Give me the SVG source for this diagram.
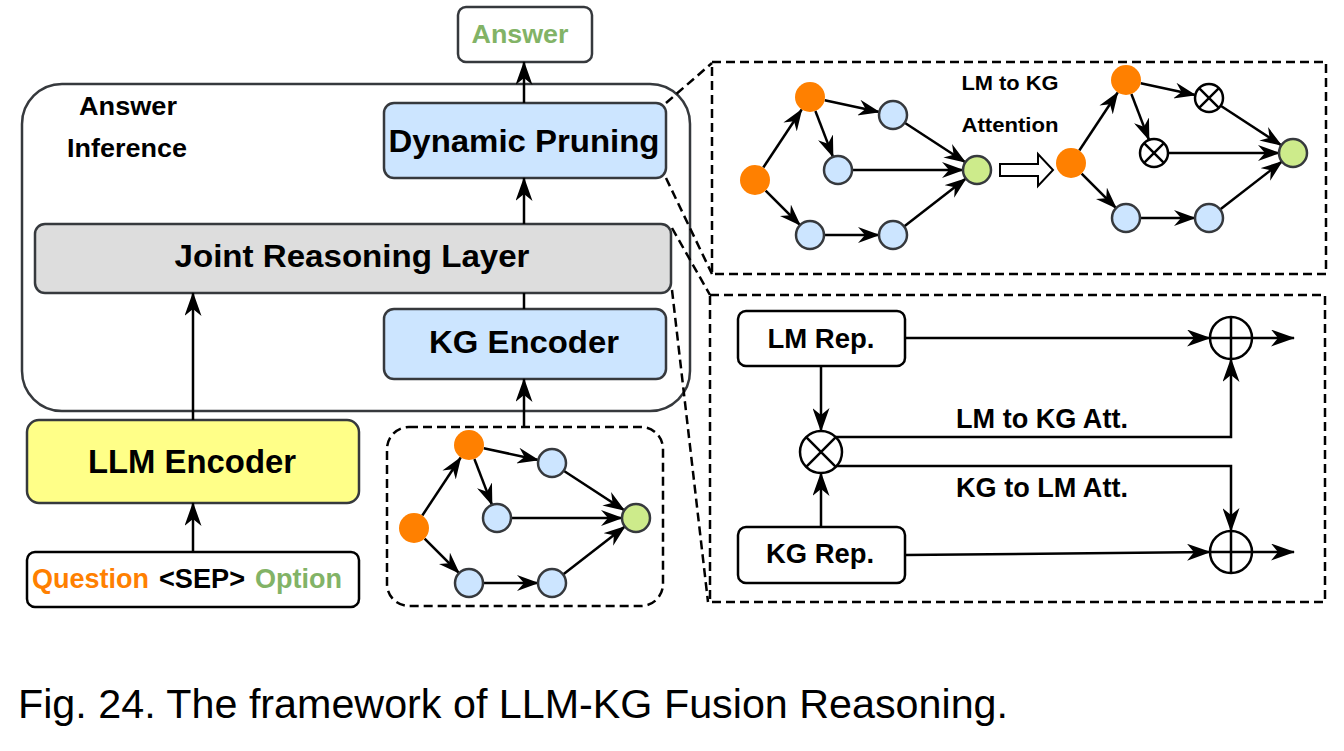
<svg xmlns="http://www.w3.org/2000/svg" width="1344" height="751" viewBox="0 0 1344 751">
<style>
.box{stroke:#36393d;stroke-width:2.5}
.rep{fill:#fff;stroke:#000;stroke-width:2.5}
.dash{fill:none;stroke:#000;stroke-width:2.5;stroke-dasharray:9 5}
.ln{fill:none;stroke:#000;stroke-width:2.5}
.t{font-family:"Liberation Sans",Arial,sans-serif;font-weight:bold;fill:#000}
.or{fill:#ff8000}
.bl{fill:#cce5ff;stroke:#36393d;stroke-width:2.5}
.gr{fill:#cdeb8b;stroke:#36393d;stroke-width:2.5}
.op{fill:#fff;stroke:#000;stroke-width:2.5}
</style>
<defs>
<marker id="ah" markerUnits="userSpaceOnUse" markerWidth="24" markerHeight="17" refX="23" refY="8.5" orient="auto"><path d="M0,0 L24,8.5 L0,17 L7,8.5 Z" fill="#000"/></marker>
<marker id="as" markerUnits="userSpaceOnUse" markerWidth="22" markerHeight="16" refX="21" refY="8" orient="auto"><path d="M0,0 L22,8 L0,16 L7,8 Z" fill="#000"/></marker>
</defs>
<rect width="1344" height="751" fill="#fff"/>

<!-- container -->
<g id="answer-inference">
<rect x="22" y="84" width="668" height="327" rx="40" fill="#fff" class="box"/>
<text class="t" x="128" y="115" font-size="25" text-anchor="middle" textLength="98" lengthAdjust="spacingAndGlyphs">Answer</text>
<text class="t" x="127" y="157" font-size="25" text-anchor="middle" textLength="120" lengthAdjust="spacingAndGlyphs">Inference</text>
</g>

<g id="answer">
<rect x="458" y="7" width="134" height="55" rx="8" fill="#fff" class="box"/>
<text class="t" x="520" y="43" font-size="26" text-anchor="middle" fill="#82b366" style="fill:#82b366" textLength="97" lengthAdjust="spacingAndGlyphs">Answer</text>
</g>
<g id="dynamic-pruning">
<rect x="384" y="103" width="282" height="75" rx="10" fill="#cce5ff" class="box"/>
<text class="t" x="524" y="152" font-size="32" text-anchor="middle" textLength="271" lengthAdjust="spacingAndGlyphs">Dynamic Pruning</text>
</g>
<g id="joint-reasoning">
<rect x="35" y="224" width="636" height="69" rx="10" fill="#dddddd" class="box"/>
<text class="t" x="352" y="267" font-size="32" text-anchor="middle" textLength="355" lengthAdjust="spacingAndGlyphs">Joint Reasoning Layer</text>
</g>
<g id="kg-encoder">
<rect x="384" y="309" width="282" height="70" rx="10" fill="#cce5ff" class="box"/>
<text class="t" x="524" y="353" font-size="32" text-anchor="middle" textLength="190" lengthAdjust="spacingAndGlyphs">KG Encoder</text>
</g>
<g id="llm-encoder">
<rect x="27" y="420" width="332" height="83" rx="12" fill="#ffff88" class="box"/>
<text class="t" x="192" y="473" font-size="33" text-anchor="middle" textLength="208" lengthAdjust="spacingAndGlyphs">LLM Encoder</text>
</g>
<g id="input">
<rect x="27" y="552" width="332" height="55" rx="8" fill="#fff" stroke="#000" stroke-width="2.5"/>
<text class="t" x="32" y="588" font-size="27"><tspan style="fill:#ff8000" textLength="117" lengthAdjust="spacingAndGlyphs">Question</tspan><tspan x="159" textLength="86" lengthAdjust="spacingAndGlyphs">&lt;SEP&gt;</tspan><tspan x="255" style="fill:#82b366" textLength="87" lengthAdjust="spacingAndGlyphs">Option</tspan></text>
</g>

<!-- small KG graph -->
<g id="kg-graph">
<rect x="387" y="427" width="276" height="179" rx="22" class="dash"/>
<g transform="translate(414,528)">
<g class="ln" marker-end="url(#as)">
<path d="M8.3,-12.5 L46.7,-70.5"/><path d="M69.7,-79.8 L124.3,-68"/><path d="M60.4,-69 L78,-23.1"/><path d="M149.7,-57.3 L210.3,-17.7"/><path d="M97,-10 L208,-10"/><path d="M10.6,10.6 L45.1,45.1"/><path d="M69,55 L124,55"/><path d="M149.1,46.4 L210.9,-1.4"/>
</g>
<g id="kg-a"><circle cx="0" cy="0" r="15" class="or"/></g>
<g id="kg-b"><circle cx="55" cy="-83" r="15" class="or"/></g>
<g id="kg-c"><circle cx="138" cy="-65" r="14" class="bl"/></g>
<g id="kg-d"><circle cx="83" cy="-10" r="14" class="bl"/></g>
<g id="kg-g"><circle cx="222" cy="-10" r="14" class="gr"/></g>
<g id="kg-e"><circle cx="55" cy="55" r="14" class="bl"/></g>
<g id="kg-f"><circle cx="138" cy="55" r="14" class="bl"/></g>
</g>
</g>

<!-- pruning detail -->
<g id="pruning-detail">
<rect x="712" y="62" width="614" height="212" class="dash"/>
<g transform="translate(755,180)">
<g class="ln" marker-end="url(#as)">
<path d="M8.3,-12.5 L46.7,-70.5"/><path d="M69.7,-79.8 L124.3,-68"/><path d="M60.4,-69 L78,-23.1"/><path d="M149.7,-57.3 L210.3,-17.7"/><path d="M97,-10 L208,-10"/><path d="M10.6,10.6 L45.1,45.1"/><path d="M69,55 L124,55"/><path d="M149.1,46.4 L210.9,-1.4"/>
</g>
<g id="p1-a"><circle cx="0" cy="0" r="15" class="or"/></g>
<g id="p1-b"><circle cx="55" cy="-83" r="15" class="or"/></g>
<g id="p1-c"><circle cx="138" cy="-65" r="14" class="bl"/></g>
<g id="p1-d"><circle cx="83" cy="-10" r="14" class="bl"/></g>
<g id="p1-g"><circle cx="222" cy="-10" r="14" class="gr"/></g>
<g id="p1-e"><circle cx="55" cy="55" r="14" class="bl"/></g>
<g id="p1-f"><circle cx="138" cy="55" r="14" class="bl"/></g>
</g>
<path d="M1000,164 L1038,164 L1038,154 L1053,170 L1038,186 L1038,176 L1000,176 Z" fill="#fff" stroke="#000" stroke-width="2"/>
<text class="t" x="1010" y="90" font-size="20" text-anchor="middle" textLength="97" lengthAdjust="spacingAndGlyphs">LM to KG</text>
<text class="t" x="1010" y="132" font-size="20" text-anchor="middle" textLength="97" lengthAdjust="spacingAndGlyphs">Attention</text>
<g transform="translate(1071,163)">
<g class="ln" marker-end="url(#as)">
<path d="M8.3,-12.5 L46.7,-70.5"/><path d="M69.7,-79.8 L124.3,-68"/><path d="M60.4,-69 L78,-23.1"/><path d="M149.7,-57.3 L210.3,-17.7"/><path d="M97,-10 L208,-10"/><path d="M10.6,10.6 L45.1,45.1"/><path d="M69,55 L124,55"/><path d="M149.1,46.4 L210.9,-1.4"/>
</g>
<g id="p2-a"><circle cx="0" cy="0" r="15" class="or"/></g>
<g id="p2-b"><circle cx="55" cy="-83" r="15" class="or"/></g>
<g id="p2-x1"><circle cx="138" cy="-65" r="14" class="op"/><path d="M128.1,-74.9 L147.9,-55.1 M147.9,-74.9 L128.1,-55.1" class="ln" stroke-width="2"/></g>
<g id="p2-x2"><circle cx="83" cy="-10" r="14" class="op"/><path d="M73.1,-19.9 L92.9,-0.1 M92.9,-19.9 L73.1,-0.1" class="ln" stroke-width="2"/></g>
<g id="p2-g"><circle cx="222" cy="-10" r="14" class="gr"/></g>
<g id="p2-e"><circle cx="55" cy="55" r="14" class="bl"/></g>
<g id="p2-f"><circle cx="138" cy="55" r="14" class="bl"/></g>
</g>
</g>

<!-- joint reasoning detail -->
<g id="fusion-detail">
<rect x="710" y="295" width="615" height="307" class="dash"/>
<g id="lm-rep"><rect x="738" y="311" width="167" height="55" rx="8" class="rep"/>
<text class="t" x="821" y="348" font-size="27" text-anchor="middle" textLength="107" lengthAdjust="spacingAndGlyphs">LM Rep.</text></g>
<g id="kg-rep"><rect x="738" y="527" width="167" height="56" rx="8" class="rep"/>
<text class="t" x="820" y="563" font-size="27" text-anchor="middle" textLength="108" lengthAdjust="spacingAndGlyphs">KG Rep.</text></g>
<g id="mult"><circle cx="821" cy="452" r="21" class="op"/><path d="M806.2,437.2 L835.8,466.8 M835.8,437.2 L806.2,466.8" class="ln" stroke-width="2"/></g>
<g id="add-top"><circle cx="1231" cy="338" r="21" class="op"/><path d="M1210,338 L1252,338 M1231,317 L1231,359" class="ln" stroke-width="2"/></g>
<g id="add-bottom"><circle cx="1231" cy="552" r="21" class="op"/><path d="M1210,552 L1252,552 M1231,531 L1231,573" class="ln" stroke-width="2"/></g>
<text class="t" x="1042" y="428" font-size="27" text-anchor="middle" textLength="172" lengthAdjust="spacingAndGlyphs">LM to KG Att.</text>
<text class="t" x="1042" y="497" font-size="27" text-anchor="middle" textLength="172" lengthAdjust="spacingAndGlyphs">KG to LM Att.</text>
</g>

<g id="connectors">
<g class="ln" marker-end="url(#ah)">
<path d="M524,103 L524,62"/>
<path d="M524,224 L524,178"/>
<path d="M524,427 L524,379"/>
<path d="M193,420 L193,293"/>
<path d="M193,552 L193,503"/>
<path d="M905,338 L1210,338"/>
<path d="M1252,338 L1294,338"/>
<path d="M905,555 L1210,552"/>
<path d="M1252,552 L1294,552"/>
<path d="M821,366 L821,431"/>
<path d="M821,527 L821,473"/>
<path d="M836,437 L1231,437 L1231,359"/>
<path d="M836.6,466 L1231,466 L1231,531"/>
</g>
<path d="M524,309 L524,293" class="ln"/>
<g class="dash">
<path d="M666,103 L712,63"/>
<path d="M666,178 L712,274"/>
<path d="M672,228 L710,295"/>
<path d="M672,290 L708,602"/>
</g>
</g>

<text x="18" y="718" font-family="'Liberation Sans',Arial,sans-serif" font-size="40" fill="#000" textLength="990" lengthAdjust="spacingAndGlyphs">Fig. 24. The framework of LLM-KG Fusion Reasoning.</text>
</svg>
